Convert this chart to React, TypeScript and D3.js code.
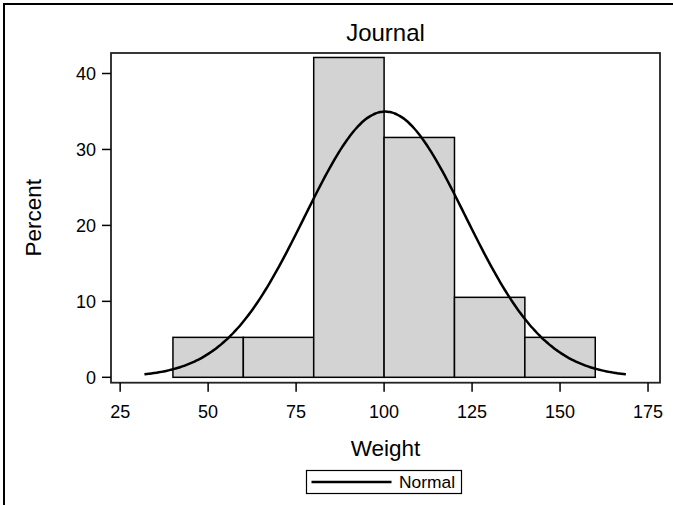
import React from "react";
import * as d3 from "d3";

const binStarts = [40, 60, 80, 100, 120, 140];
const binWidth = 20;
const percents = [5.26, 5.26, 42.11, 31.58, 10.53, 5.26];
const xTicks = [25, 50, 75, 100, 125, 150, 175];
const yTicks = [0, 10, 20, 30, 40];
const normalMean = 100.3;
const normalStd = 22.8;
const titleText = "Journal";
const xLabel = "Weight";
const yLabel = "Percent";
const legendLabel = "Normal";

const W = 673;
const H = 505;
const frame = { left: 111, right: 660, top: 53, bottom: 382.7 };
const FONT = "'Liberation Sans', Arial, Helvetica, sans-serif";

export default function App() {
  const x = d3.scaleLinear().domain([22.4, 178.4]).range([frame.left, frame.right]);
  const y = d3.scaleLinear().domain([-0.71, 42.7]).range([frame.bottom, frame.top]);

  const n = 200;
  const lo = normalMean - 3 * normalStd;
  const hi = normalMean + 3 * normalStd;
  const curve: [number, number][] = d3.range(n + 1).map((i) => {
    const v = lo + ((hi - lo) * i) / n;
    const z = (v - normalMean) / normalStd;
    const p = (binWidth * 100 * Math.exp(-0.5 * z * z)) / (normalStd * Math.sqrt(2 * Math.PI));
    return [v, p];
  });
  const line = d3
    .line<[number, number]>()
    .x((d) => x(d[0]))
    .y((d) => y(d[1]))
    .curve(d3.curveBasis);

  const cx = (frame.left + frame.right) / 2;
  const cy = (frame.top + frame.bottom) / 2;

  return (
    <svg
      width={W}
      height={H}
      style={{ position: "absolute", left: 0, top: 0, background: "#fff" }}
      fontFamily={FONT}
    >
      <rect x={0} y={0} width={W} height={H} fill="#fff" />
      {/* outer border */}
      <rect x={4} y={4} width={W + 20} height={H + 20} fill="none" stroke="#000" strokeWidth={2} />

      {/* title */}
      <text x={cx} y={41} textAnchor="middle" fontSize={24} fill="#000">
        {titleText}
      </text>

      {/* plot area background */}
      <rect
        x={frame.left}
        y={frame.top}
        width={frame.right - frame.left}
        height={frame.bottom - frame.top}
        fill="#fff"
      />

      {/* bars */}
      {binStarts.map((b, i) => (
        <rect
          key={b}
          x={x(b)}
          y={y(percents[i])}
          width={x(b + binWidth) - x(b)}
          height={y(0) - y(percents[i])}
          fill="#d3d3d3"
          stroke="#000"
          strokeWidth={1.5}
        />
      ))}

      {/* normal curve */}
      <path d={line(curve) || ""} fill="none" stroke="#000" strokeWidth={2.5} />

      {/* frame */}
      <rect
        x={frame.left}
        y={frame.top}
        width={frame.right - frame.left}
        height={frame.bottom - frame.top}
        fill="none"
        stroke="#222"
        strokeWidth={1.8}
      />

      {/* y ticks */}
      {yTicks.map((t) => (
        <g key={t}>
          <line x1={frame.left - 9} x2={frame.left} y1={y(t)} y2={y(t)} stroke="#000" strokeWidth={1.5} />
          <text
            x={frame.left - 15}
            y={y(t)}
            dy="0.36em"
            textAnchor="end"
            fontSize={18}
            fill="#000"
          >
            {t}
          </text>
        </g>
      ))}

      {/* x ticks */}
      {xTicks.map((t) => (
        <g key={t}>
          <line x1={x(t)} x2={x(t)} y1={frame.bottom} y2={frame.bottom + 9} stroke="#000" strokeWidth={1.5} />
          <text x={x(t)} y={418} textAnchor="middle" fontSize={18} fill="#000">
            {t}
          </text>
        </g>
      ))}

      {/* axis labels */}
      <text x={cx} y={456} textAnchor="middle" fontSize={22.5} fill="#000">
        {xLabel}
      </text>
      <text
        transform={`translate(41, ${cy}) rotate(-90)`}
        textAnchor="middle"
        fontSize={22.5}
        fill="#000"
      >
        {yLabel}
      </text>

      {/* legend */}
      <rect x={306.5} y={470.5} width={155} height={23} fill="#fff" stroke="#000" strokeWidth={1.2} />
      <line x1={311.5} x2={391.5} y1={482} y2={482} stroke="#000" strokeWidth={2.5} />
      <text x={399} y={488} fontSize={17.4} fill="#000">
        {legendLabel}
      </text>
    </svg>
  );
}
